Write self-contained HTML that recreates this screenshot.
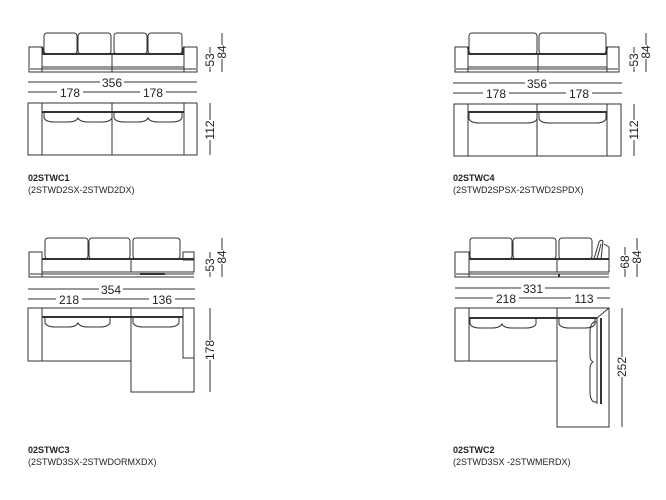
<!DOCTYPE html>
<html><head><meta charset="utf-8"><style>
html,body{margin:0;padding:0;background:#fff}
svg{display:block}
text{font-family:"Liberation Sans",sans-serif;fill:#222}
.d{font-size:12px}
.t{font-size:9px;font-weight:bold}
.s{font-size:9px}
</style></head><body>
<svg width="666" height="500" viewBox="0 0 666 500" xmlns="http://www.w3.org/2000/svg" fill="none" stroke="#333" stroke-width="1">
<defs>
<marker id="dot" viewBox="0 0 4 4" refX="2" refY="2" markerWidth="3" markerHeight="3"><circle cx="2" cy="2" r="1.5" fill="#333" stroke="none"/></marker>
</defs>

<!-- ========== C1 ========== -->
<g>
<rect x="44" y="33" width="33" height="21" rx="3"/><rect x="78" y="33" width="33" height="21" rx="3"/>
<rect x="114" y="33" width="33" height="21" rx="3"/><rect x="148" y="33" width="34" height="21" rx="3"/>
<rect x="29" y="47" width="13" height="25"/><rect x="184" y="47" width="13" height="25"/>
<rect x="42" y="54" width="142" height="13"/><line x1="112" y1="54" x2="112" y2="72"/>
<line x1="42" y1="54" x2="184" y2="54" stroke-width="2"/>
<line x1="30" y1="69" x2="196" y2="69"/><line x1="30" y1="72" x2="196" y2="72"/>
<line x1="42" y1="47" x2="44" y2="54" stroke-width="2"/><line x1="184" y1="47" x2="182" y2="54" stroke-width="2"/>
<!-- dims -->
<line x1="210" y1="47" x2="210" y2="72"/><line x1="222" y1="33" x2="222" y2="72"/>
<rect x="205" y="53" width="10" height="14" fill="#fff" stroke="none"/><rect x="217" y="45" width="10" height="14" fill="#fff" stroke="none"/>
<text class="d" transform="translate(214,60) rotate(-90)" text-anchor="middle" stroke="none">53</text>
<text class="d" transform="translate(226,52) rotate(-90)" text-anchor="middle" stroke="none">84</text>
<line x1="28" y1="82" x2="197" y2="82"/><rect x="100" y="76" width="24" height="12" fill="#fff" stroke="none"/>
<text class="d" x="112" y="87" text-anchor="middle" stroke="none">356</text>
<line x1="28" y1="92" x2="197" y2="92"/>
<rect x="57" y="86" width="26" height="12" fill="#fff" stroke="none"/><rect x="140" y="86" width="26" height="12" fill="#fff" stroke="none"/>
<text class="d" x="70" y="97" text-anchor="middle" stroke="none">178</text><text class="d" x="153" y="97" text-anchor="middle" stroke="none">178</text>
<!-- plan -->
<rect x="28" y="103" width="169" height="52"/>
<line x1="42" y1="103" x2="42" y2="155"/><line x1="184" y1="103" x2="184" y2="155"/><line x1="112" y1="103" x2="112" y2="155"/>
<line x1="42" y1="112" x2="184" y2="112" stroke-width="2"/>
<path d="M44 113 v5 q2 4 10 4 h14 q8 0 10 -4 q2 4 10 4 h14 q8 0 10 -4 v-5"/>
<path d="M114 113 v5 q2 4 10 4 h14 q8 0 10 -4 q2 4 10 4 h14 q8 0 10 -4 v-5"/>
<line x1="210" y1="103" x2="210" y2="155"/><rect x="205" y="120" width="10" height="20" fill="#fff" stroke="none"/>
<text class="d" transform="translate(214,130) rotate(-90)" text-anchor="middle" stroke="none">112</text>
<text class="t" x="28" y="181" stroke="none">02STWC1</text>
<text class="s" x="28" y="193" stroke="none">(2STWD2SX-2STWD2DX)</text>
</g>

<!-- ========== C4 ========== -->
<g>
<rect x="469" y="33" width="68" height="21" rx="3"/><rect x="539" y="33" width="67" height="21" rx="3"/>
<rect x="455" y="47" width="13" height="25"/><rect x="607" y="47" width="12" height="25"/>
<rect x="468" y="54" width="139" height="13"/><line x1="538" y1="54" x2="538" y2="72"/>
<line x1="468" y1="54" x2="607" y2="54" stroke-width="2"/>
<line x1="456" y1="69" x2="618" y2="69"/><line x1="456" y1="72" x2="618" y2="72"/>
<line x1="468" y1="47" x2="469" y2="54" stroke-width="2"/><line x1="607" y1="47" x2="606" y2="54" stroke-width="2"/>
<line x1="634" y1="47" x2="634" y2="72"/><line x1="646" y1="33" x2="646" y2="72"/>
<rect x="629" y="53" width="10" height="14" fill="#fff" stroke="none"/><rect x="641" y="45" width="10" height="14" fill="#fff" stroke="none"/>
<text class="d" transform="translate(638,60) rotate(-90)" text-anchor="middle" stroke="none">53</text>
<text class="d" transform="translate(650,52) rotate(-90)" text-anchor="middle" stroke="none">84</text>
<line x1="453" y1="83" x2="622" y2="83"/><rect x="525" y="77" width="24" height="12" fill="#fff" stroke="none"/>
<text class="d" x="537" y="88" text-anchor="middle" stroke="none">356</text>
<line x1="453" y1="93" x2="622" y2="93"/>
<rect x="483" y="87" width="26" height="12" fill="#fff" stroke="none"/><rect x="566" y="87" width="26" height="12" fill="#fff" stroke="none"/>
<text class="d" x="496" y="98" text-anchor="middle" stroke="none">178</text><text class="d" x="579" y="98" text-anchor="middle" stroke="none">178</text>
<rect x="454" y="104" width="167" height="52"/>
<line x1="468" y1="104" x2="468" y2="156"/><line x1="607" y1="104" x2="607" y2="156"/><line x1="537" y1="104" x2="537" y2="156"/>
<line x1="468" y1="112" x2="607" y2="112" stroke-width="2"/>
<path d="M469 113 v6 q2 4 10 4 h48 q8 0 10 -4 v-6"/>
<path d="M539 113 v6 q2 4 10 4 h47 q8 0 10 -4 v-6"/>
<line x1="634" y1="104" x2="634" y2="156"/><rect x="629" y="120" width="10" height="20" fill="#fff" stroke="none"/>
<text class="d" transform="translate(638,130) rotate(-90)" text-anchor="middle" stroke="none">112</text>
<text class="t" x="453" y="181" stroke="none">02STWC4</text>
<text class="s" x="453" y="193" stroke="none">(2STWD2SPSX-2STWD2SPDX)</text>
</g>

<!-- ========== C3 ========== -->
<g>
<rect x="45" y="238" width="43" height="21" rx="3"/><rect x="89" y="238" width="41" height="21" rx="3"/><rect x="133" y="238" width="47" height="21" rx="3"/>
<rect x="29" y="252" width="13" height="25"/><rect x="183" y="252" width="11" height="8"/>
<rect x="42" y="259" width="89" height="13"/><rect x="131" y="259" width="63" height="13"/>
<line x1="42" y1="259" x2="194" y2="259" stroke-width="2"/>
<line x1="30" y1="274" x2="194" y2="274"/><line x1="30" y1="277" x2="194" y2="277"/>
<line x1="140" y1="274" x2="165" y2="274" stroke-width="2"/>
<line x1="210" y1="252" x2="210" y2="277"/><line x1="222" y1="238" x2="222" y2="277"/>
<rect x="205" y="258" width="10" height="14" fill="#fff" stroke="none"/><rect x="217" y="250" width="10" height="14" fill="#fff" stroke="none"/>
<text class="d" transform="translate(214,265) rotate(-90)" text-anchor="middle" stroke="none">53</text>
<text class="d" transform="translate(226,257) rotate(-90)" text-anchor="middle" stroke="none">84</text>
<line x1="28" y1="289" x2="195" y2="289"/><rect x="99" y="283" width="24" height="12" fill="#fff" stroke="none"/>
<text class="d" x="111" y="294" text-anchor="middle" stroke="none">354</text>
<line x1="28" y1="299" x2="195" y2="299"/>
<rect x="56" y="293" width="26" height="12" fill="#fff" stroke="none"/><rect x="149" y="293" width="26" height="12" fill="#fff" stroke="none"/>
<text class="d" x="69" y="304" text-anchor="middle" stroke="none">218</text><text class="d" x="162" y="304" text-anchor="middle" stroke="none">136</text>
<path d="M28 308 H194 V392 H131 V361 H28 Z"/>
<line x1="42" y1="308" x2="42" y2="361"/><line x1="131" y1="308" x2="131" y2="361"/>
<path d="M183 308 V358 H194"/>
<line x1="42" y1="317" x2="183" y2="317" stroke-width="2"/>
<path d="M45 318 v5 q2 4 10 4 h13 q8 0 10 -4 q2 4 10 4 h12 q8 0 10 -4 v-5"/>
<path d="M133 318 v5 q2 4 10 4 h26 q8 0 10 -4 v-5"/>
<line x1="210" y1="308" x2="210" y2="392"/><rect x="205" y="340" width="10" height="20" fill="#fff" stroke="none"/>
<text class="d" transform="translate(214,350) rotate(-90)" text-anchor="middle" stroke="none">178</text>
<text class="t" x="28" y="453" stroke="none">02STWC3</text>
<text class="s" x="28" y="465" stroke="none">(2STWD3SX-2STWDORMXDX)</text>
</g>

<!-- ========== C2 ========== -->
<g>
<rect x="470" y="238" width="42" height="21" rx="3"/><rect x="513" y="238" width="43" height="21" rx="3"/><rect x="559" y="238" width="33" height="21" rx="3"/>
<path d="M594 259 L599 242 Q601 239 603 241 L601 259"/><path d="M597 259 L601 244"/>
<path d="M604 244 L609 247 V259"/>
<rect x="455" y="252" width="14" height="25"/>
<rect x="469" y="259" width="88" height="13"/><rect x="557" y="259" width="52" height="13"/>
<line x1="469" y1="259" x2="609" y2="259" stroke-width="2"/>
<line x1="456" y1="274" x2="609" y2="274"/><line x1="456" y1="277" x2="609" y2="277"/>
<line x1="559" y1="274" x2="559" y2="277" stroke-width="2"/>
<line x1="625" y1="247" x2="625" y2="277"/><line x1="637" y1="238" x2="637" y2="277"/>
<rect x="620" y="255" width="10" height="14" fill="#fff" stroke="none"/><rect x="632" y="250" width="10" height="14" fill="#fff" stroke="none"/>
<text class="d" transform="translate(629,262) rotate(-90)" text-anchor="middle" stroke="none">68</text>
<text class="d" transform="translate(641,257) rotate(-90)" text-anchor="middle" stroke="none">84</text>
<line x1="455" y1="288" x2="610" y2="288"/><rect x="521" y="282" width="24" height="12" fill="#fff" stroke="none"/>
<text class="d" x="533" y="293" text-anchor="middle" stroke="none">331</text>
<line x1="455" y1="298" x2="610" y2="298"/>
<rect x="493" y="292" width="26" height="12" fill="#fff" stroke="none"/><rect x="571" y="292" width="26" height="12" fill="#fff" stroke="none"/>
<text class="d" x="506" y="303" text-anchor="middle" stroke="none">218</text><text class="d" x="584" y="303" text-anchor="middle" stroke="none">113</text>
<path d="M455 308 H609 V427 H557 V361 H455 Z"/>
<line x1="469" y1="308" x2="469" y2="361"/><line x1="557" y1="308" x2="557" y2="361"/>
<line x1="597" y1="318" x2="609" y2="308"/>
<line x1="469" y1="318" x2="597" y2="318" stroke-width="2"/>
<line x1="601" y1="318" x2="601" y2="404" stroke-width="2"/><line x1="597" y1="318" x2="597" y2="404"/>
<path d="M470 319 v5 q2 4 10 4 h12 q8 0 10 -4 q2 4 10 4 h14 q8 0 10 -4 v-5"/>
<path d="M559 319 v5 q2 4 10 4 h16 q8 0 10 -4 v-5"/>
<path d="M597 322 h-3 q-4 2 -4 10 v24 q0 4 3 6 q-3 2 -3 6 v24 q0 8 4 10 h3"/>
<line x1="622" y1="308" x2="622" y2="427"/><rect x="617" y="357" width="10" height="20" fill="#fff" stroke="none"/>
<text class="d" transform="translate(626,367) rotate(-90)" text-anchor="middle" stroke="none">252</text>
<text class="t" x="453" y="453" stroke="none">02STWC2</text>
<text class="s" x="453" y="465" stroke="none">(2STWD3SX -2STWMERDX)</text>
</g>
</svg>
</body></html>
